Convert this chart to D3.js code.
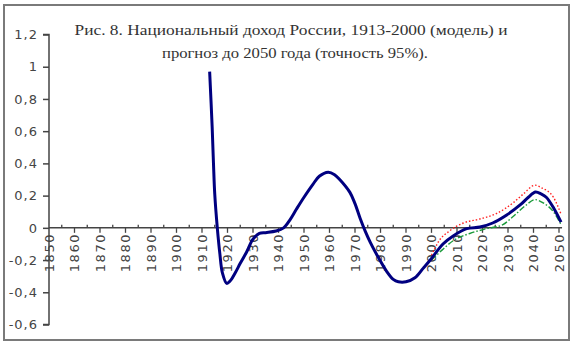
<!DOCTYPE html>
<html><head><meta charset="utf-8">
<script src="https://cdn.jsdelivr.net/npm/d3@7"></script>
<style>
html,body{margin:0;padding:0;background:#fff;}
svg{display:block;}
</style></head>
<body>
<svg id="chart" width="577" height="346"></svg>
<script>
// ---- data ----
const titleLines = ["Рис. 8. Национальный доход России, 1913-2000 (модель) и",
                    "прогноз до 2050 года (точность 95%)."];
const yTicks = [1.2, 1, 0.8, 0.6, 0.4, 0.2, 0, -0.2, -0.4, -0.6];
const xTickYears = [1850,1860,1870,1880,1890,1900,1910,1920,1930,1940,1950,1960,1970,1980,1990,2000,2010,2020,2030,2040,2050];
const xTickLabels = ["1850","1860","1870","1880","1890","1900","1910","1920","1930","1940","1950","1960","1970","1980","1990","2000","2010","2020","2030","2040","2050"];

const modelYears  = [1913,1914,1914.5,1915,1916,1917,1918,1919.7,1921,1923,1925,1927.5,1930,1932.5,1935,1939,1942,1944.5,1947,1950,1953.5,1956,1959.5,1962,1964,1968,1970,1972,1974,1976,1978.5,1982.4,1985,1987,1990,1993.5,1996.8,2000,2004.5,2008.5,2013.8,2019,2024,2029.5,2035,2038,2040.8,2043,2045,2048,2050.8];
const modelValues = [0.97,0.62,0.40,0.21,0.0,-0.16,-0.28,-0.345,-0.33,-0.28,-0.22,-0.15,-0.07,-0.035,-0.03,-0.02,0.0,0.05,0.115,0.19,0.27,0.32,0.345,0.33,0.30,0.22,0.15,0.06,-0.02,-0.09,-0.165,-0.27,-0.32,-0.335,-0.335,-0.31,-0.25,-0.19,-0.10,-0.05,-0.005,0.005,0.03,0.08,0.145,0.19,0.222,0.21,0.19,0.12,0.035];

const upperYears  = [2000,2003,2007,2012.5,2019,2025.6,2032,2036,2040.6,2043,2047.8,2050.8];
const upperValues = [-0.17,-0.08,-0.02,0.03,0.055,0.09,0.155,0.21,0.265,0.25,0.19,0.085];

const lowerYears  = [2000,2004,2008.5,2015,2021.6,2028,2032,2037,2040.6,2043.8,2047.8,2050.8];
const lowerValues = [-0.2,-0.14,-0.08,-0.035,-0.005,0.02,0.07,0.14,0.175,0.155,0.10,0.02];

// ---- layout ----
const svg = d3.select("#chart");
const x = d3.scaleLinear().domain([1850, 2050]).range([49, 559]);
const y = d3.scaleLinear().domain([-0.6, 1.2]).range([324.5, 34.5]);

// frame
svg.append("rect").attr("x",4).attr("y",5).attr("width",565).attr("height",335)
  .attr("fill","#fff").attr("stroke","#7a7a7a").attr("stroke-width",2);

// title
const tf = "'Liberation Serif','Times New Roman',serif";
svg.append("text").attr("x",291).attr("y",35).attr("text-anchor","middle")
  .attr("font-family",tf).attr("font-size",15).attr("fill","#333")
  .attr("textLength",433).attr("lengthAdjust","spacingAndGlyphs").text(titleLines[0]);
svg.append("text").attr("x",295).attr("y",58).attr("text-anchor","middle")
  .attr("font-family",tf).attr("font-size",15).attr("fill","#333")
  .attr("textLength",266).attr("lengthAdjust","spacingAndGlyphs").text(titleLines[1]);

const axisColor = "#444";
const lf = "'DejaVu Sans',Verdana,sans-serif";
const fmt = v => (v === 0 ? "0" : String(v).replace(".", ","));

// Y axis
const yAxis = d3.axisLeft(y).tickValues(yTicks).tickSize(6).tickPadding(5).tickFormat(fmt);
const gy = svg.append("g").attr("transform",`translate(${x(1850)},0)`).call(yAxis);
gy.select(".domain").attr("stroke",axisColor).attr("stroke-width",1.5).attr("d",`M-6,${y(1.2)}H0V${y(-0.6)}H-6`);
gy.selectAll(".tick line").attr("stroke",axisColor).attr("stroke-width",1.5);
gy.selectAll(".tick text").attr("font-family",lf).attr("font-size",13).attr("fill","#444")
  .attr("letter-spacing","1px");

// X axis at y=0: minor (5-yr) ticks up, major (decade) ticks down
const gx = svg.append("g").attr("transform",`translate(0,${y(0)})`);
gx.append("line").attr("x1",x(1850)).attr("x2",x(2051.2)).attr("y1",0).attr("y2",0)
  .attr("stroke",axisColor).attr("stroke-width",1.5);
const minorYears = d3.range(1855, 2050, 10);
gx.selectAll("line.minor").data(minorYears).join("line").attr("class","minor")
  .attr("x1",d=>x(d)).attr("x2",d=>x(d)).attr("y1",-3).attr("y2",0)
  .attr("stroke",axisColor).attr("stroke-width",1.3);
gx.selectAll("line.major").data(xTickYears.slice(1)).join("line").attr("class","major")
  .attr("x1",d=>x(d)).attr("x2",d=>x(d)).attr("y1",0).attr("y2",5)
  .attr("stroke",axisColor).attr("stroke-width",1.3);
gx.selectAll("text").data(xTickYears).join("text")
  .attr("transform",d=>`translate(${x(d)},5) rotate(-90)`)
  .attr("text-anchor","end").attr("dy","0.36em")
  .attr("font-family",lf).attr("font-size",13).attr("fill","#444")
  .attr("letter-spacing","1.6px")
  .text((d,i)=>xTickLabels[i]);

// lines
const line = d3.line().x(d=>x(d[0])).y(d=>y(d[1])).curve(d3.curveMonotoneX);
const z = (a,b)=>a.map((v,i)=>[v,b[i]]);
svg.append("path").datum(z(lowerYears,lowerValues)).attr("d",line)
  .attr("fill","none").attr("stroke","#1a9a3a").attr("stroke-width",1.4).attr("stroke-dasharray","6,2,1.5,2");
svg.append("path").datum(z(upperYears,upperValues)).attr("d",line)
  .attr("fill","none").attr("stroke","#ff2020").attr("stroke-width",1.4).attr("stroke-dasharray","1.5,2");
const lineM = d3.line().x(d=>x(d[0])).y(d=>y(d[1])).curve(d3.curveCatmullRom.alpha(0.5));
svg.append("path").datum(z(modelYears,modelValues)).attr("d",lineM)
  .attr("fill","none").attr("stroke","#000080").attr("stroke-width",3).attr("stroke-linejoin","round");
</script>
</body></html>
